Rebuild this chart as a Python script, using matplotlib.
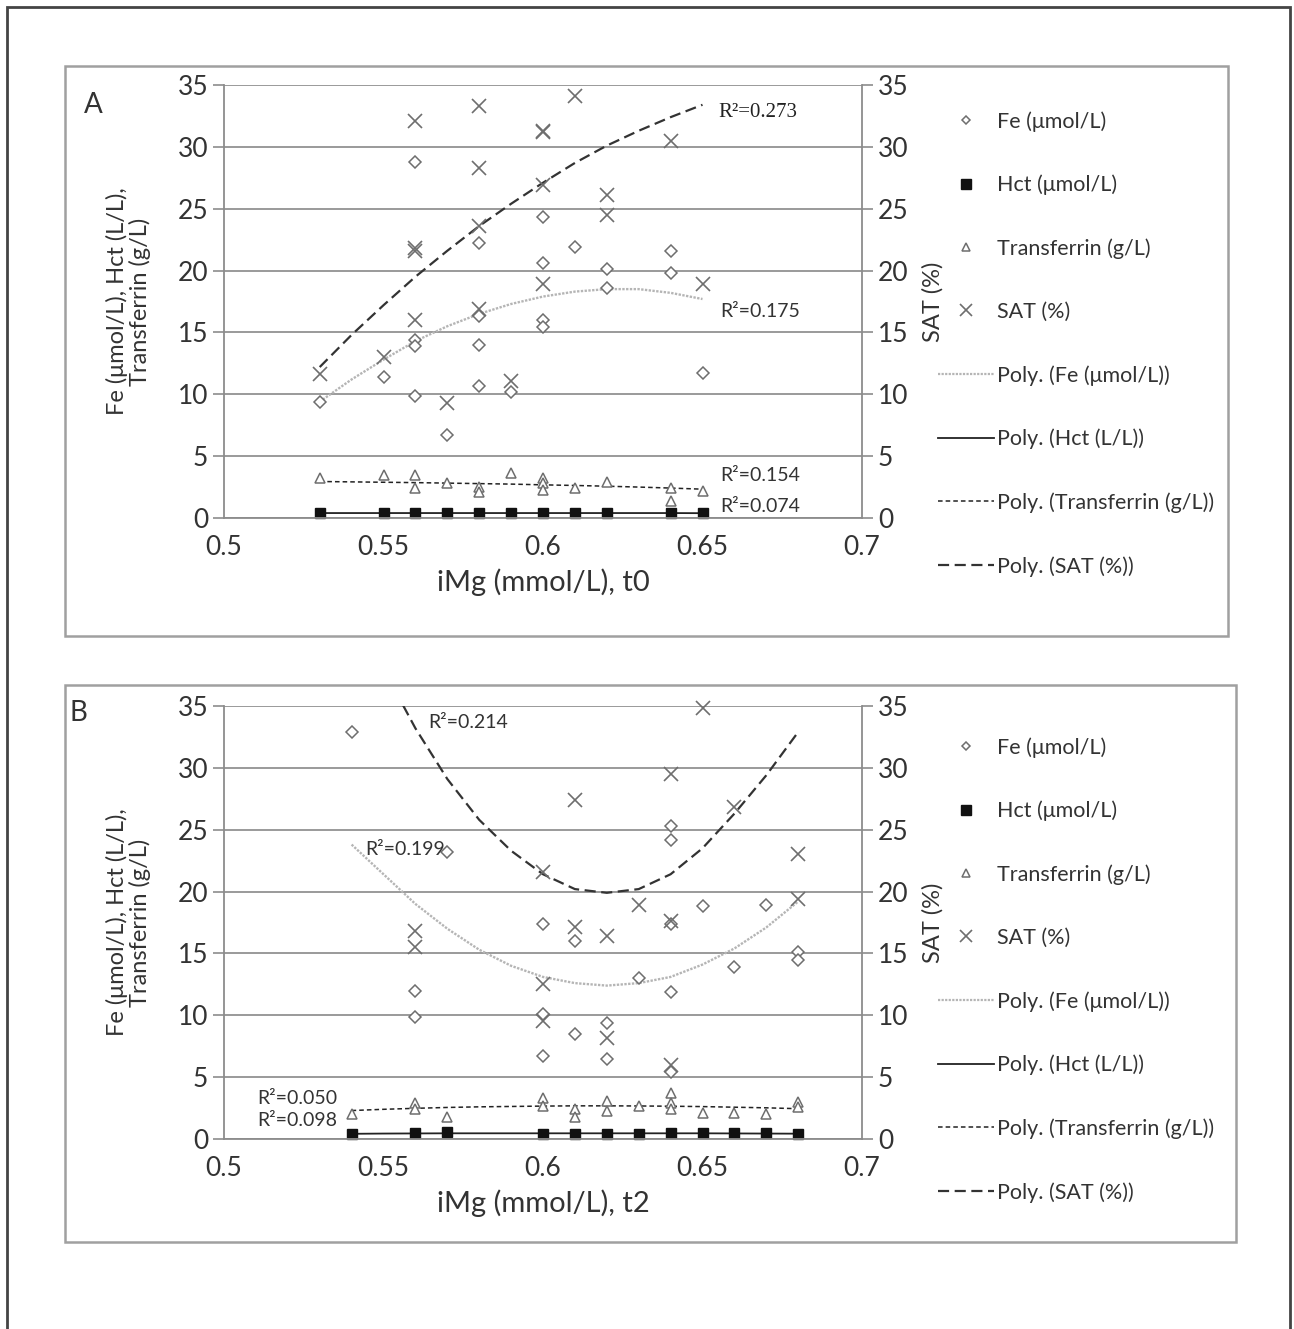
import numpy as np
import matplotlib
matplotlib.use('Agg')
import matplotlib.pyplot as plt
from matplotlib.lines import Line2D
from matplotlib.patches import Rectangle

plt.rcParams['font.family'] = ['Lato', 'DejaVu Sans']

# ---- Panel A (t0) ----
a_fe_x = [0.53, 0.55, 0.56, 0.56, 0.56, 0.56, 0.57, 0.58, 0.58, 0.58, 0.58, 0.59,
          0.60, 0.60, 0.60, 0.60, 0.61, 0.62, 0.62, 0.64, 0.64, 0.65]
a_fe_y = [9.4, 11.4, 28.8, 14.4, 13.9, 9.9, 6.7, 22.2, 16.3, 14.0, 10.7, 10.2,
          24.3, 20.6, 16.0, 15.4, 21.9, 20.1, 18.6, 21.6, 19.8, 11.7]
a_sat_x = [0.53, 0.55, 0.56, 0.56, 0.56, 0.56, 0.57, 0.58, 0.58, 0.58, 0.58, 0.59,
           0.60, 0.60, 0.60, 0.60, 0.61, 0.62, 0.62, 0.64, 0.65]
a_sat_y = [11.6, 13.0, 32.1, 21.8, 21.6, 16.0, 9.3, 33.3, 28.3, 23.6, 16.9, 11.1,
           31.2, 31.3, 26.9, 18.9, 34.1, 26.1, 24.5, 30.5, 18.9]
a_tf_x = [0.53, 0.55, 0.56, 0.56, 0.57, 0.58, 0.58, 0.59, 0.60, 0.60, 0.60, 0.61,
          0.62, 0.64, 0.64, 0.65]
a_tf_y = [3.2, 3.5, 3.5, 2.4, 2.8, 2.5, 2.1, 3.6, 3.2, 2.8, 2.3, 2.4,
          2.9, 2.4, 1.4, 2.2]
a_hct_x = [0.53, 0.55, 0.56, 0.57, 0.58, 0.59, 0.60, 0.61, 0.62, 0.64, 0.65]
a_hct_y = [0.40, 0.40, 0.40, 0.40, 0.40, 0.40, 0.40, 0.40, 0.40, 0.40, 0.38]

# trendlines
a_trend_x = [0.53, 0.54, 0.55, 0.56, 0.57, 0.58, 0.59, 0.60, 0.61, 0.62, 0.63, 0.64, 0.65]
a_fe_trend = [9.4, 11.2, 12.8, 14.3, 15.5, 16.5, 17.3, 17.9, 18.3, 18.5, 18.5, 18.2, 17.7]
a_sat_trend = [12.2, 14.8, 17.2, 19.5, 21.6, 23.6, 25.4, 27.1, 28.7, 30.1, 31.3, 32.4, 33.4]
a_tf_trend = [2.95, 2.92, 2.89, 2.86, 2.82, 2.78, 2.74, 2.68, 2.63, 2.57, 2.50, 2.42, 2.33]
a_hct_trend = [0.40, 0.40, 0.40, 0.40, 0.40, 0.40, 0.40, 0.40, 0.40, 0.40, 0.40, 0.40, 0.39]

# ---- Panel B (t2) ----
b_fe_x = [0.54, 0.56, 0.56, 0.57, 0.60, 0.60, 0.60, 0.61, 0.61, 0.62, 0.62, 0.63,
          0.64, 0.64, 0.64, 0.64, 0.64, 0.65, 0.66, 0.67, 0.68, 0.68]
b_fe_y = [32.9, 12.0, 9.9, 23.2, 17.4, 10.1, 6.7, 16.0, 8.5, 9.4, 6.5, 13.0,
          25.3, 24.2, 17.4, 11.9, 5.4, 18.8, 13.9, 18.9, 15.1, 14.5]
b_sat_x = [0.56, 0.56, 0.60, 0.60, 0.60, 0.61, 0.61, 0.62, 0.62, 0.63,
           0.64, 0.64, 0.64, 0.65, 0.66, 0.68, 0.68]
b_sat_y = [16.8, 15.5, 21.6, 12.5, 9.5, 27.4, 17.1, 16.4, 8.2, 18.9,
           29.5, 17.6, 6.0, 34.8, 26.8, 23.0, 19.4]
b_tf_x = [0.54, 0.56, 0.56, 0.57, 0.60, 0.60, 0.61, 0.61, 0.62, 0.62, 0.63,
          0.64, 0.64, 0.64, 0.65, 0.66, 0.67, 0.68, 0.68]
b_tf_y = [2.0, 2.9, 2.4, 1.8, 3.3, 2.7, 2.4, 1.8, 3.1, 2.3, 2.7,
          3.7, 2.9, 2.4, 2.1, 2.1, 2.0, 3.0, 2.6]
b_hct_x = [0.54, 0.56, 0.57, 0.60, 0.61, 0.62, 0.63, 0.64, 0.65, 0.66, 0.67, 0.68]
b_hct_y = [0.40, 0.50, 0.60, 0.40, 0.40, 0.40, 0.40, 0.50, 0.50, 0.50, 0.50, 0.40]

b_trend_x = [0.54, 0.55, 0.56, 0.57, 0.58, 0.59, 0.60, 0.61, 0.62, 0.63, 0.64, 0.65,
             0.66, 0.67, 0.68]
b_fe_trend = [23.8, 21.4, 19.0, 17.0, 15.3, 14.0, 13.1, 12.6, 12.4, 12.6, 13.1, 14.1,
              15.4, 17.1, 19.2]
b_sat_trend = [43.5, 38.0, 33.2, 29.1, 25.8, 23.3, 21.4, 20.2, 19.9, 20.2, 21.4, 23.5,
               26.3, 29.4, 32.9]
b_tf_trend = [2.30, 2.40, 2.48, 2.55, 2.60, 2.63, 2.66, 2.68, 2.68, 2.67, 2.65, 2.62,
              2.57, 2.52, 2.45]
b_hct_trend = [0.42, 0.44, 0.45, 0.46, 0.46, 0.46, 0.46, 0.46, 0.46, 0.46, 0.46, 0.46,
               0.45, 0.44, 0.43]

yticks = [0, 5, 10, 15, 20, 25, 30, 35]
xticks = [0.5, 0.55, 0.6, 0.65, 0.7]
xtick_labels = ['0.5', '0.55', '0.6', '0.65', '0.7']

a_r2 = [('R²=0.273', 0.655, 32.8, 'serif'), ('R²=0.175', 0.6555, 16.7, 'sans'),
        ('R²=0.154', 0.6555, 3.4, 'sans'), ('R²=0.074', 0.6555, 0.9, 'sans')]
b_r2 = [('R²=0.214', 0.564, 33.7, 'sans'), ('R²=0.199', 0.5442, 23.4, 'sans'),
        ('R²=0.050', 0.5103, 3.3, 'sans'), ('R²=0.098', 0.5103, 1.5, 'sans')]

W, H = 1294, 1329
fig = plt.figure(figsize=(W / 100, H / 100), dpi=100)
fig.patch.set_facecolor('white')

gray = '#8c8c8c'
mk = '#6e6e6e'
txt = '#333333'


def fx(px):
    return px / W


def fy(py):
    return 1 - py / H


def panel(top, fe, sat, tf, hct, trend_x, trends, r2, letter, xlabel, letter_pos, box, leg_off):
    ax = fig.add_axes([fx(224), fy(top + 433), fx(862 - 224), 433 / H])
    ax.set_xlim(0.5, 0.7)
    ax.set_ylim(0, 35)
    ax.set_yticks(yticks)
    ax.set_xticks(xticks)
    ax.set_xticklabels(xtick_labels)
    ax.yaxis.grid(True, color='#9a9a9a', lw=1.4)
    ax.set_axisbelow(True)
    for s in ['top', 'right']:
        ax.spines[s].set_visible(False)
    for s in ['left', 'bottom']:
        ax.spines[s].set_color(gray)
        ax.spines[s].set_linewidth(1.3)
    ax.tick_params(axis='both', colors=gray, labelcolor=txt, labelsize=19,
                   length=8, width=1.2, direction='out')
    ax.tick_params(axis='x', length=0, pad=12)

    ax2 = ax.twinx()
    ax2.set_ylim(0, 35)
    ax2.set_yticks(yticks)
    for s in ['top', 'left', 'bottom']:
        ax2.spines[s].set_visible(False)
    ax2.spines['right'].set_color(gray)
    ax2.spines['right'].set_linewidth(1.3)
    ax2.tick_params(axis='y', colors=gray, labelcolor=txt, labelsize=19,
                    length=8, width=1.2, direction='out')
    ax2.set_ylabel('SAT (%)', fontsize=17, color=txt)
    ax2.yaxis.set_label_coords(1.094, 0.5)

    fe_t, hct_t, tf_t, sat_t = trends
    ax.plot(trend_x, fe_t, color='#b5b5b5', lw=1.7, ls=(0, (1, 0.6)))
    ax.plot(trend_x, hct_t, color='#222222', lw=1.3, ls='-')
    ax.plot(trend_x, tf_t, color='#222222', lw=1.1, ls=(0, (3, 2)))
    ax.plot(trend_x, sat_t, color='#333333', lw=1.6, ls=(0, (5, 2.5)))

    ax.plot(fe[0], fe[1], ls='none', marker='D', ms=6, mfc='white', mec=mk, mew=1.1, clip_on=False)
    ax.plot(hct[0], hct[1], ls='none', marker='s', ms=7.5, mfc='#111111', mec='#111111', clip_on=False)
    ax.plot(tf[0], tf[1], ls='none', marker='^', ms=7, mfc='white', mec=mk, mew=1.1, clip_on=False)
    ax.plot(sat[0], sat[1], ls='none', marker='x', ms=10, mec=mk, mew=1.2, clip_on=False)

    for label, x, y, kind in r2:
        if kind == 'serif':
            ax.text(x, y, label, fontsize=15, color='#222222', family='Liberation Serif', va='center')
        else:
            ax.text(x, y, label, fontsize=14, color=txt, va='center')

    ax.set_ylabel('Fe (μmol/L), Hct (L/L),\nTransferrin (g/L)', fontsize=17, color=txt,
                  linespacing=1.05)
    ax.yaxis.set_label_coords(-0.115, 0.5)
    ax.set_xlabel(xlabel, fontsize=21, color=txt, labelpad=6)

    fig.text(fx(letter_pos[0]), fy(letter_pos[1]), letter, fontsize=20, color=txt, va='center')

    handles = [
        Line2D([], [], ls='none', marker='D', ms=4.5, mfc='white', mec=mk, mew=1.1),
        Line2D([], [], ls='none', marker='s', ms=7, mfc='#111111', mec='#111111'),
        Line2D([], [], ls='none', marker='^', ms=6, mfc='white', mec=mk, mew=1.1),
        Line2D([], [], ls='none', marker='x', ms=8, mec=mk, mew=1.2),
        Line2D([], [], color='#b5b5b5', lw=1.6, ls=(0, (1, 0.6))),
        Line2D([], [], color='#222222', lw=1.3),
        Line2D([], [], color='#222222', lw=1.1, ls=(0, (3, 2))),
        Line2D([], [], color='#333333', lw=1.6, ls=(0, (5, 2.5))),
    ]
    labels = ['Fe (μmol/L)', 'Hct (μmol/L)', 'Transferrin (g/L)', 'SAT (%)',
              'Poly. (Fe (μmol/L))', 'Poly. (Hct (L/L))', 'Poly. (Transferrin (g/L))',
              'Poly. (SAT (%))']
    leg = fig.legend(handles, labels, loc='upper left',
                     bbox_to_anchor=(fx(938), fy(top + leg_off)), frameon=False,
                     fontsize=15.5, handlelength=2.6, handletextpad=0.15,
                     labelspacing=2.0, borderpad=0, borderaxespad=0)
    for t in leg.get_texts():
        t.set_color(txt)

    x0, y0, x1, y1 = box
    fig.add_artist(Rectangle((fx(x0), fy(y1)), fx(x1 - x0), (y1 - y0) / H,
                             transform=fig.transFigure, fill=False, ec='#a0a0a0', lw=1.8))


panel(85, (a_fe_x, a_fe_y), (a_sat_x, a_sat_y), (a_tf_x, a_tf_y), (a_hct_x, a_hct_y),
      a_trend_x, (a_fe_trend, a_hct_trend, a_tf_trend, a_sat_trend), a_r2,
      'A', 'iMg (mmol/L), t0', (84, 105), (65, 66, 1228, 636), 26)
panel(706, (b_fe_x, b_fe_y), (b_sat_x, b_sat_y), (b_tf_x, b_tf_y), (b_hct_x, b_hct_y),
      b_trend_x, (b_fe_trend, b_hct_trend, b_tf_trend, b_sat_trend), b_r2,
      'B', 'iMg (mmol/L), t2', (70, 713), (65, 685, 1236, 1242), 31)

# outer frame
fig.add_artist(Rectangle((fx(7), fy(1340)), fx(1290 - 7), 1333 / H,
                         transform=fig.transFigure, fill=False, ec='#444444', lw=2))

fig.savefig('out.png', dpi=100)
